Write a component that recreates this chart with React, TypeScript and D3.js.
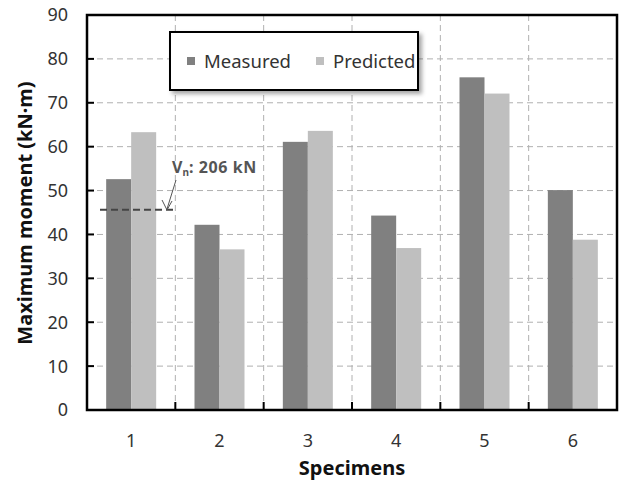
import React from "react";
import * as d3 from "d3";

const categories = ["1", "2", "3", "4", "5", "6"];
const measured = [52.6, 42.2, 61.1, 44.3, 75.8, 50.1];
const predicted = [63.3, 36.6, 63.6, 36.9, 72.1, 38.8];
const seriesNames = ["Measured", "Predicted"];
const yTicks = [0, 10, 20, 30, 40, 50, 60, 70, 80, 90];
const shearLevel = 45.6;
const annotationLabel = ": 206 kN";

const W = 625;
const H = 483;
const M = { left: 87, right: 8, top: 15, bottom: 73 };
const colors = ["#808080", "#bfbfbf"];
const font = "'Noto Sans', 'Open Sans', sans-serif";

export default function App() {
  const x = d3
    .scaleBand<string>()
    .domain(categories)
    .range([M.left, W - M.right])
    .paddingInner(0)
    .paddingOuter(0);
  const y = d3.scaleLinear().domain([0, 90]).range([H - M.bottom, M.top]);
  const bw = 25;
  const x0 = M.left;
  const x1 = W - M.right;
  const y0 = y(0);
  const y1 = y(90);
  const boundaries = categories.slice(1).map((c) => x(c)!);

  const lx = x("1")!;
  const ly = y(shearLevel);

  return (
    <svg width={W} height={H} style={{ position: "absolute", left: 0, top: 0 }}>
      <defs>
        <filter id="sh" x="-10%" y="-10%" width="130%" height="140%">
          <feDropShadow dx="3" dy="3" stdDeviation="2" floodColor="#000" floodOpacity="0.35" />
        </filter>
      </defs>
      <rect x={0} y={0} width={W} height={H} fill="#fff" />
      {/* grid */}
      {yTicks.slice(1, -1).map((t) => (
        <line key={"gy" + t} x1={x0} x2={x1} y1={y(t)} y2={y(t)} stroke="#b0b0b0" strokeWidth={1} strokeDasharray="6,4" />
      ))}
      {boundaries.map((b, i) => (
        <line key={"gx" + i} x1={b} x2={b} y1={y1} y2={y0} stroke="#b0b0b0" strokeWidth={1} strokeDasharray="6,4" />
      ))}
      {/* bars */}
      {categories.map((c, i) => {
        const cx = x(c)! + x.bandwidth() / 2;
        return (
          <g key={"b" + c}>
            <rect x={cx - bw} y={y(measured[i])} width={bw} height={y0 - y(measured[i])} fill={colors[0]} />
            <rect x={cx} y={y(predicted[i])} width={bw} height={y0 - y(predicted[i])} fill={colors[1]} />
          </g>
        );
      })}
      {/* ticks */}
      {yTicks.map((t) => (
        <g key={"yt" + t}>
          <line x1={x0} x2={x0 + 7} y1={y(t)} y2={y(t)} stroke="#000" strokeWidth={2} />
          <text x={68} y={y(t)} dy="0.36em" textAnchor="end" fontFamily={font} fontSize={18} fill="#333">
            {t}
          </text>
        </g>
      ))}
      {boundaries.map((b, i) => (
        <line key={"xt" + i} x1={b} x2={b} y1={y0} y2={y0 - 8} stroke="#000" strokeWidth={2} />
      ))}
      {categories.map((c) => (
        <text key={"xl" + c} x={x(c)! + x.bandwidth() / 2} y={441} dy="0.36em" textAnchor="middle" fontFamily={font} fontSize={18} fill="#333">
          {c}
        </text>
      ))}
      {/* frame */}
      <rect x={x0} y={y1} width={x1 - x0} height={y0 - y1} fill="none" stroke="#000" strokeWidth={2.5} />
      {/* axis titles */}
      <text x={352} y={475} textAnchor="middle" fontFamily={font} fontSize={20} fontWeight="bold" fill="#111">
        Specimens
      </text>
      <text transform={`translate(25,213) rotate(-90)`} dy="0.36em" textAnchor="middle" fontFamily={font} fontSize={20} fontWeight="bold" fill="#111">
        Maximum moment (kN·m)
      </text>
      {/* legend */}
      <g>
        <rect x={170} y={32} width={248} height={58} fill="#fff" stroke="#000" strokeWidth={2} filter="url(#sh)" />
        {seriesNames.map((s, i) => {
          const lx0 = i === 0 ? 187 : 316;
          return (
            <g key={s}>
              <rect x={lx0} y={57} width={8} height={8} fill={colors[i]} />
              <text x={lx0 + 17} y={61} dy="0.36em" fontFamily={font} fontSize={18.5} fill="#333">
                {s}
              </text>
            </g>
          );
        })}
      </g>
      {/* annotation */}
      <line x1={lx + 13} x2={lx + 86} y1={ly} y2={ly} stroke="#444" strokeWidth={2} strokeDasharray="7,4" />
      <line x1={176} y1={180} x2={167} y2={209} stroke="#555" strokeWidth={1} />
      <path d="M162,200 L167,210 L172,201" fill="none" stroke="#555" strokeWidth={1} />
      <text x={172} y={173} fontFamily={font} fontSize={16} fontWeight="bold" fill="#555">
        V<tspan fontSize={10} dy={3}>n</tspan>
        <tspan dy={-3} letterSpacing={0.6}>{annotationLabel}</tspan>
      </text>
    </svg>
  );
}
